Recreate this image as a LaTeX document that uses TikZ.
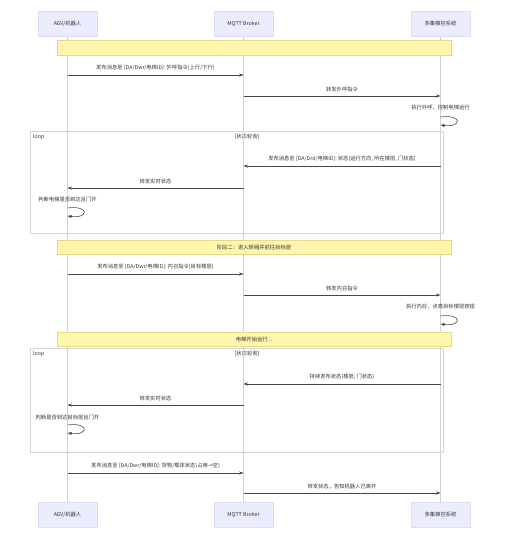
\documentclass[tikz,border=0pt]{standalone}
\usepackage{fontspec}
\setmainfont{Noto Sans CJK SC}
\usetikzlibrary{arrows.meta}
\definecolor{partfill}{HTML}{ECECFF}
\definecolor{partline}{HTML}{DCDCF2}
\definecolor{notefill}{HTML}{FFF5AD}
\definecolor{noteline}{HTML}{E6DA8A}
\definecolor{lifeline}{HTML}{D2D2D2}
\definecolor{framecol}{HTML}{D6D6D6}
\definecolor{txt}{HTML}{333333}
\begin{document}
\begin{tikzpicture}[x=1pt,y=-1pt,
  part/.style={draw=partline, fill=partfill, minimum width=59, minimum height=25, inner sep=0, text=txt, font=\fontsize{5.3}{6}\selectfont},
  life/.style={draw=lifeline, line width=0.6pt},
  notebox/.style={draw=noteline, fill=notefill, line width=0.5pt},
  notetxt/.style={text=txt, font=\fontsize{5.3}{6}\selectfont, inner sep=0},
  loopframe/.style={draw=framecol, line width=0.7pt},
  msg/.style={draw=txt!90, line width=0.6pt, -{Stealth[length=4.5pt,width=3.2pt]}},
  lbl/.style={text=txt, font=\fontsize{5.3}{6}\selectfont, inner sep=0, above=4pt},
  slbl/.style={text=txt, font=\fontsize{5.3}{6}\selectfont, inner sep=0},
]
\useasboundingbox (0,0) rectangle (508,539);
\fill[white] (0,0) rectangle (508,539);

% frames
\draw[loopframe] (30,131) rectangle (443,233);
\draw[loopframe] (30,348) rectangle (443,452);
\node[notetxt, anchor=west] (loop1) at (33,137) {loop};
\node[notetxt] (cond1) at (247,137) {[状态轮询]};
\node[notetxt, anchor=west] (loop2) at (33,354) {loop};
\node[notetxt] (cond2) at (247,354) {[状态轮询]};

% lifelines
\draw[life] (67.5,36) -- (67.5,502);
\draw[life] (243.5,36) -- (243.5,502);
\draw[life] (440.5,36) -- (440.5,502);

% notes
\draw[notebox] (57,40) rectangle (451,55);
\draw[notebox] (57,240) rectangle (451,254);
\node[notetxt] (n2) at (254,247) {阶段二：进入轿厢并前往目标层};
\draw[notebox] (57,332) rectangle (451,346);
\node[notetxt] (n3) at (254,339) {电梯开始运行...};

% participants
\node[part] (aT) at (67.5,23.5) {AGV/机器人};
\node[part] (mT) at (243.5,23.5) {MQTT Broker};
\node[part] (eT) at (440.5,23.5) {多集梯控系统};
\node[part] (aB) at (67.5,514.5) {AGV/机器人};
\node[part] (mB) at (243.5,514.5) {MQTT Broker};
\node[part] (eB) at (440.5,514.5) {多集梯控系统};

% message 1
\coordinate (a1) at (aT |- 0,75); \coordinate (m1) at (mT |- 0,75);
\draw[msg] (a1) -- node[lbl]{发布消息至 [DA/Dwr/电梯ID]: 外呼指令(上行/下行)} (m1);
% message 2
\coordinate (m2) at (mT |- 0,96); \coordinate (e2) at (eT |- 0,96);
\draw[msg] (m2) -- node[lbl]{转发外呼指令} (e2);
% self 3
\node[slbl] (s3) at (440.5,108) {执行外呼，控制电梯运行};
\coordinate (e3a) at (eT |- 0,117); \coordinate (e3b) at (eT |- 0,125);
\draw[msg] (e3a) .. controls +(22,-3) and +(22,3) .. (e3b);

% loop 1
\coordinate (e4) at (eT |- 0,166); \coordinate (m4) at (mT |- 0,166);
\draw[msg] (e4) -- node[lbl]{发布消息至 [DA/Drd/电梯ID]: 状态(运行方向, 所在楼层, 门状态)} (m4);
\coordinate (m5) at (mT |- 0,188); \coordinate (a5) at (aT |- 0,188);
\draw[msg] (m5) -- node[lbl]{转发实时状态} (a5);
\node[slbl] (s6) at (67.5,199) {判断电梯是否到达且门开};
\coordinate (a6a) at (aT |- 0,208); \coordinate (a6b) at (aT |- 0,216);
\draw[msg] (a6a) .. controls +(22,-3) and +(22,3) .. (a6b);

% phase 2
\coordinate (a8) at (aT |- 0,274); \coordinate (m8) at (mT |- 0,274);
\draw[msg] (a8) -- node[lbl]{发布消息至 [DA/Dwr/电梯ID]: 内召指令(目标楼层)} (m8);
\coordinate (m9) at (mT |- 0,295); \coordinate (e9) at (eT |- 0,295);
\draw[msg] (m9) -- node[lbl]{转发内召指令} (e9);
\node[slbl] (s10) at (440.5,307) {执行内召，点亮目标楼层按钮};
\coordinate (e10a) at (eT |- 0,316); \coordinate (e10b) at (eT |- 0,324);
\draw[msg] (e10a) .. controls +(22,-3) and +(22,3) .. (e10b);

% loop 2
\coordinate (e12) at (eT |- 0,384); \coordinate (m12) at (mT |- 0,384);
\draw[msg] (e12) -- node[lbl]{持续发布状态(楼层, 门状态)} (m12);
\coordinate (m13) at (mT |- 0,405); \coordinate (a13) at (aT |- 0,405);
\draw[msg] (m13) -- node[lbl]{转发实时状态} (a13);
\node[slbl] (s14) at (67.5,417) {判断是否到达目标层且门开};
\coordinate (a14a) at (aT |- 0,425); \coordinate (a14b) at (aT |- 0,433);
\draw[msg] (a14a) .. controls +(22,-3) and +(22,3) .. (a14b);

% final
\coordinate (a15) at (aT |- 0,473); \coordinate (m15) at (mT |- 0,473);
\draw[msg] (a15) -- node[lbl]{发布消息至 [DA/Dwr/电梯ID]: 货物/载体状态(占用->空)} (m15);
\coordinate (m16) at (mT |- 0,493); \coordinate (e16) at (eT |- 0,493);
\draw[msg] (m16) -- node[lbl]{转发状态，告知机器人已离开} (e16);
\end{tikzpicture}
\end{document}
